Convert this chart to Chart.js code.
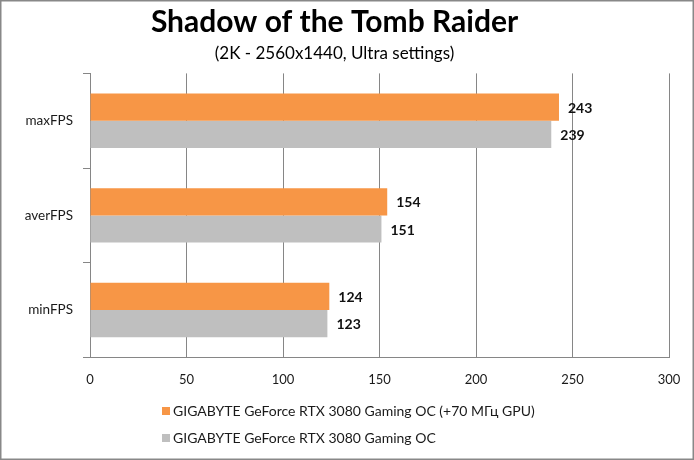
<!DOCTYPE html>
<html>
<head>
<meta charset="utf-8">
<script src="https://cdn.jsdelivr.net/npm/chart.js@4.4.1/dist/chart.umd.min.js"></script>
<style>
  html, body { margin:0; padding:0; background:#fff; }
  #wrap { width:694px; height:460px; }
</style>
</head>
<body>
<div id="wrap"><canvas id="chart" width="694" height="460"></canvas></div>
<script>
/* chart values */
const categories = ['maxFPS', 'averFPS', 'minFPS'];
const seriesNames = ['GIGABYTE GeForce RTX 3080 Gaming OC (+70 МГц GPU)', 'GIGABYTE GeForce RTX 3080 Gaming OC'];
const ocValues = [243, 154, 124];
const stockValues = [239, 151, 123];
const xTicks = [0, 50, 100, 150, 200, 250, 300];

const FONT = 'Lato';
const GRID = '#868686';

Chart.defaults.font.family = FONT;
Chart.defaults.color = '#1a1a1a';

// value labels right of each bar
const valueLabels = {
  id: 'valueLabels',
  afterDatasetsDraw(chart){
    const ctx = chart.ctx;
    ctx.save();
    ctx.font = 'bold 14px ' + FONT;
    ctx.fillStyle = '#111';
    ctx.textAlign = 'left';
    ctx.textBaseline = 'middle';
    chart.data.datasets.forEach((ds, i)=>{
      chart.getDatasetMeta(i).data.forEach((bar, j)=>{
        ctx.fillText(ds.data[j], bar.x + 9, bar.y + 1);
      });
    });
    ctx.restore();
  }
};

// stacked legend under the axis + outer frame
const sideLegend = {
  id: 'sideLegend',
  afterDraw(chart){
    const ctx = chart.ctx;
    ctx.save();
    ctx.font = '14px ' + FONT;
    ctx.textBaseline = 'middle';
    chart.data.datasets.forEach((ds, i)=>{
      const y = 411 + i * 27;
      ctx.fillStyle = ds.backgroundColor;
      ctx.fillRect(162, y - 4, 8, 8);
      ctx.fillStyle = '#1a1a1a';
      ctx.fillText(ds.label, 173, y);
    });
    ctx.strokeStyle = '#888';
    ctx.lineWidth = 1.5;
    ctx.strokeRect(0.75, 0.75, chart.width - 1.5, chart.height - 1.5);
    ctx.restore();
  }
};

new Chart(document.getElementById('chart'), {
  type: 'bar',
  data: {
    labels: categories,
    datasets: [
      { label: seriesNames[0], data: ocValues, backgroundColor: '#F79646' },
      { label: seriesNames[1], data: stockValues, backgroundColor: '#BFBFBF' }
    ]
  },
  options: {
    indexAxis: 'y',
    responsive: false,
    animation: false,
    categoryPercentage: 0.575,
    barPercentage: 1.0,
    layout: { padding: { left: 0, right: 25, top: 0, bottom: 63 } },
    plugins: {
      legend: { display: false },
      tooltip: { enabled: false },
      title: {
        display: true,
        text: 'Shadow of the Tomb Raider',
        color: '#000',
        font: { size: 30, weight: 'bold' },
        padding: { top: 4, bottom: 2 }
      },
      subtitle: {
        display: true,
        text: '(2K - 2560x1440, Ultra settings)',
        color: '#000',
        font: { size: 17 },
        padding: { top: 1, bottom: 10 }
      }
    },
    scales: {
      x: {
        min: 0, max: 300,
        afterBuildTicks: s => { s.ticks = xTicks.map(v => ({ value: v })); },
        grid: { color: GRID, drawTicks: true, tickLength: 6, tickColor: 'rgba(0,0,0,0)' },
        border: { display: true, color: GRID },
        ticks: { padding: 9, font: { size: 13 }, color: '#1a1a1a' }
      },
      y: {
        afterFit: s => { s.width = 90; },
        grid: { drawOnChartArea: false, tickLength: 7, color: GRID, offset: true },
        border: { display: true, color: GRID },
        ticks: { padding: 10, font: { size: 13.5 }, color: '#1a1a1a' }
      }
    }
  },
  plugins: [valueLabels, sideLegend]
});
</script>
</body>
</html>
